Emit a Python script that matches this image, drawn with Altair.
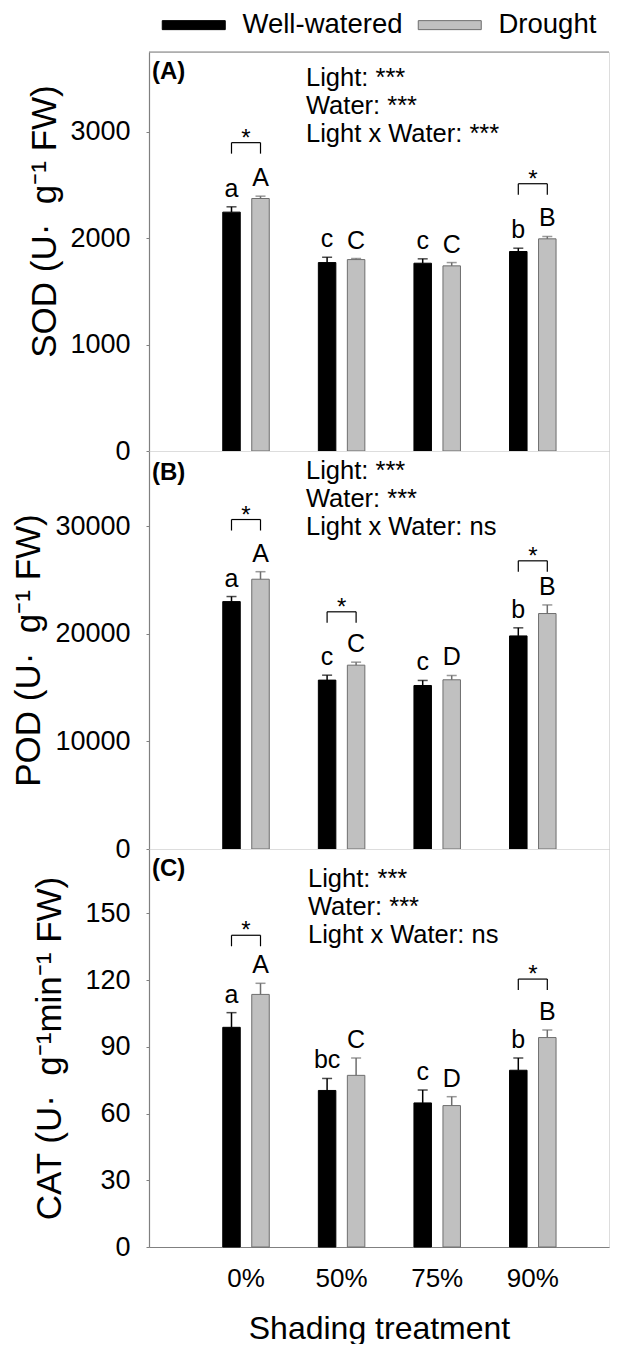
import altair as alt
import pandas as pd

shades = ["0%", "50%", "75%", "90%"]
waters = ["Well-watered", "Drought"]

# (A) SOD
sod_ww = [2245, 1771, 1765, 1875]
sod_dr = [2373, 1799, 1740, 1994]
sod_ww_se = [50, 50, 41, 31]
sod_dr_se = [22, 10, 31, 22]
sod_ww_letters = ["a", "c", "c", "b"]
sod_dr_letters = ["A", "C", "C", "B"]
sod_sig_shades = ["0%", "90%"]
sod_sig_level = [2898, 2512]
sod_stats = ["Light: ***", "Water: ***", "Light x Water: ***"]

# (B) POD
pod_ww = [23000, 15700, 15200, 19810]
pod_dr = [25080, 17090, 15730, 21890]
pod_ww_se = [470, 460, 470, 750]
pod_dr_se = [700, 280, 400, 800]
pod_ww_letters = ["a", "c", "c", "b"]
pod_dr_letters = ["A", "C", "D", "B"]
pod_sig_shades = ["0%", "50%", "90%"]
pod_sig_level = [30630, 22050, 26790]
pod_stats = ["Light: ***", "Water: ***", "Light x Water: ns"]

# (C) CAT
cat_ww = [98.8, 70.4, 64.8, 79.5]
cat_dr = [113.6, 77.2, 63.6, 94.2]
cat_ww_se = [6.6, 5.4, 5.8, 5.5]
cat_dr_se = [5.0, 7.8, 4.0, 3.4]
cat_ww_letters = ["a", "bc", "c", "b"]
cat_dr_letters = ["A", "C", "D", "B"]
cat_sig_shades = ["0%", "90%"]
cat_sig_level = [140.2, 120.5]
cat_stats = ["Light: ***", "Water: ***", "Light x Water: ns"]

FONT = "Liberation Sans, Arial, Helvetica, sans-serif"
W = 460
GRAY = "#808080"
FILLS = ["#000000", "#c0c0c0"]
EDGES = ["#000000", "#6e6e6e"]

legend_def = alt.Legend(
    title=None, orient="none", legendX=31, legendY=-41, direction="horizontal",
    symbolType="M-6.3,-0.9L6.3,-0.9L6.3,0.9L-6.3,0.9Z", symbolSize=100,
    symbolStrokeColor="#6e6e6e", symbolStrokeWidth=1, symbolOpacity=1,
    labelFontSize=27.5, labelFont=FONT, labelColor="black", labelOffset=35,
    columnPadding=13, labelLimit=0,
)


def panel(ww, dr, ww_se, dr_se, ww_let, dr_let, sig_shades, sig_level, stats, tag,
          ytitle, ymax, yticks, height, title_x, title_y, stats_x, stats_y, tag_y,
          bottom=False, top_border=False):
    df = pd.DataFrame({
        "shade": shades * 2,
        "water": [waters[0]] * 4 + [waters[1]] * 4,
        "mean": ww + dr,
        "se": ww_se + dr_se,
        "letter": ww_let + dr_let,
    })
    sig = pd.DataFrame({
        "shade": [s for s in sig_shades for _ in waters],
        "water": waters * len(sig_shades),
        "level": [v for v in sig_level for _ in waters],
    })
    sig_star = pd.DataFrame({"shade": sig_shades, "level": sig_level, "star": ["*"] * len(sig_shades)})

    if bottom:
        xaxis = alt.Axis(labelFontSize=26, labelFont=FONT, labelColor="black", labelPadding=18,
                         labelAngle=0, ticks=False, tickSize=0, title="Shading treatment",
                         titleFontSize=32, titleFont=FONT, titleFontWeight="normal",
                         titleColor="black", titleBaseline="alphabetic", titleY=91,
                         domainColor=GRAY, domainWidth=1.2)
    else:
        xaxis = alt.Axis(labels=False, ticks=False, tickSize=0, title=None,
                         domainColor=GRAY, domainWidth=1.2)
    xscale = alt.Scale(domain=shades, paddingInner=0.4, paddingOuter=0.6059, align=0.5898)
    x = alt.X("shade:N", scale=xscale, axis=xaxis)
    xo = alt.XOffset("water:N", scale=alt.Scale(domain=waters, paddingInner=0.3966, paddingOuter=0.187))

    yaxis = alt.Axis(values=yticks, format="d", title=ytitle, titleFontSize=35, titleFont=FONT,
                     titleFontWeight="normal", titleColor="black", titleX=title_x, titleY=title_y,
                     titleBaseline="alphabetic", titleAngle=270, titleAlign="center",
                     labelFontSize=27, labelFont=FONT, labelColor="black", labelPadding=16,
                     tickSize=3, tickColor=GRAY, domainColor=GRAY, domainWidth=1.2, grid=False)
    yscale = alt.Scale(domain=[0, ymax], nice=False, zero=True)

    def Y(field):
        return alt.Y(field, scale=yscale, axis=yaxis)

    color = alt.Color("water:N", scale=alt.Scale(domain=waters, range=FILLS), legend=legend_def)
    stroke = alt.Stroke("water:N", scale=alt.Scale(domain=waters, range=EDGES), legend=None)
    fill = alt.Fill("water:N", scale=alt.Scale(domain=waters, range=EDGES), legend=None)

    base = alt.Chart(df).transform_calculate(upper="datum.mean + datum.se")

    bars = base.mark_bar(strokeWidth=1, opacity=1).encode(
        x=x, xOffset=xo, y=Y("mean:Q"), color=color, stroke=stroke)
    err = base.mark_rule(strokeWidth=1.5).encode(
        x=x, xOffset=xo, y=Y("mean:Q"), y2="upper:Q", stroke=stroke)
    caps = base.mark_tick(orient="horizontal", size=10, thickness=1.5).encode(
        x=x, xOffset=xo, y=Y("upper:Q"), fill=fill)
    letters = base.mark_text(fontSize=25, font=FONT, baseline="alphabetic", dy=-10,
                             color="black").encode(
        x=x, xOffset=xo, y=Y("upper:Q"), text="letter:N")
    bracket_h = alt.Chart(sig).mark_line(color="black", strokeWidth=1.2).encode(
        x=x, xOffset=xo, y=Y("level:Q"), detail="shade:N")
    bracket_v = alt.Chart(sig).mark_rule(color="black", strokeWidth=1.2, y2Offset=11).encode(
        x=x, xOffset=xo, y=Y("level:Q"), y2="level:Q")
    stars = alt.Chart(sig_star).mark_text(fontSize=24, font=FONT, baseline="alphabetic", dy=3,
                                          color="black").encode(
        x=x, y=Y("level:Q"), text="star:N")
    stats_txt = alt.Chart(pd.DataFrame({"t": ["\n".join(stats)]})).mark_text(
        align="left", baseline="alphabetic", fontSize=25.5, font=FONT, lineBreak="\n",
        lineHeight=28, color="black").encode(
        x=alt.value(stats_x), y=alt.value(stats_y), text="t:N")
    tag_txt = alt.Chart(pd.DataFrame({"t": [tag]})).mark_text(
        align="left", baseline="alphabetic", fontSize=24, font=FONT, fontWeight="bold",
        color="black").encode(x=alt.value(3), y=alt.value(tag_y), text="t:N")

    layers = [bars, err, caps, letters, bracket_h, bracket_v, stars, stats_txt, tag_txt]
    if top_border:
        border = alt.Chart(pd.DataFrame({"t": [0]})).mark_rule(color=GRAY, strokeWidth=1.2).encode(
            x=alt.value(0), x2=alt.value(W), y=alt.value(0))
        layers.append(border)
    return alt.layer(*layers).properties(width=W, height=height)


pA = panel(sod_ww, sod_dr, sod_ww_se, sod_dr_se, sod_ww_letters, sod_dr_letters,
           sod_sig_shades, sod_sig_level, sod_stats, "(A)",
           "SOD (U·\u00a0 g\u207b\u00b9 FW)", 3750, [0, 1000, 2000, 3000], 399,
           -94, 169, 157, 34, 27, top_border=True)
pB = panel(pod_ww, pod_dr, pod_ww_se, pod_dr_se, pod_ww_letters, pod_dr_letters,
           pod_sig_shades, pod_sig_level, pod_stats, "(B)",
           "POD (U·\u00a0 g\u207b\u00b9 FW)", 37000, [0, 10000, 20000, 30000], 398,
           -110, 199, 157, 28, 29)
pC = panel(cat_ww, cat_dr, cat_ww_se, cat_dr_se, cat_ww_letters, cat_dr_letters,
           cat_sig_shades, cat_sig_level, cat_stats, "(C)",
           "CAT (U·\u00a0 g\u207b\u00b9min\u207b\u00b9 FW)", 179, [0, 30, 60, 90, 120, 150], 398,
           -89, 199, 159, 38, 27, bottom=True)

chart = alt.vconcat(pA, pB, pC, spacing=0, bounds="flush").properties(
    padding={"left": 2, "top": 3, "right": 0, "bottom": -1}
).configure_view(stroke=None).configure(font=FONT)

chart.save("out.html", embed_options={"renderer": "svg", "actions": False})
